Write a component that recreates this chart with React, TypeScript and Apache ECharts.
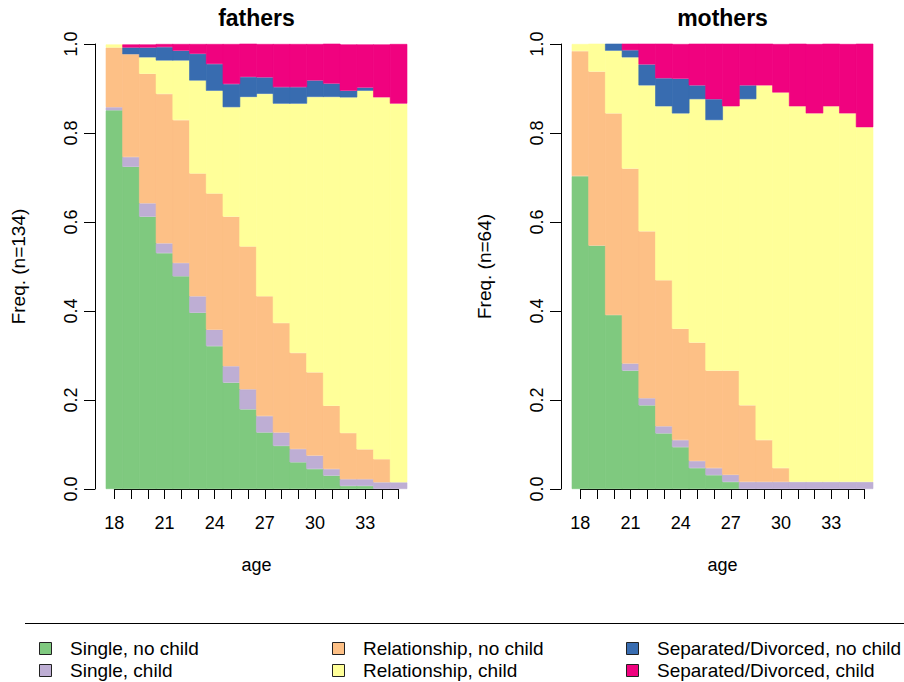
import React, { useEffect, useRef } from "react";
import * as echarts from "echarts";

const ages = ["18","19","20","21","22","23","24","25","26","27","28","29","30","31","32","33","34","35"];

const stateNames = [
  "Single, no child",
  "Single, child",
  "Relationship, no child",
  "Relationship, child",
  "Separated/Divorced, no child",
  "Separated/Divorced, child",
];
const stateColors = ["#7FC97F", "#BEAED4", "#FDC086", "#FFFF99", "#386CB0", "#F0027F"];

// fathers (n=134), proportions per age
const fSingleNoChild = [0.851,0.724,0.612,0.530,0.478,0.396,0.321,0.239,0.179,0.127,0.097,0.060,0.045,0.030,0.007,0.007,0,0];
const fSingleChild = [0.007,0.022,0.030,0.022,0.030,0.037,0.037,0.037,0.045,0.037,0.030,0.030,0.030,0.015,0.015,0.015,0.015,0.015];
const fRelNoChild = [0.134,0.231,0.291,0.336,0.321,0.276,0.306,0.336,0.321,0.269,0.246,0.216,0.187,0.142,0.104,0.067,0.052,0];
const fRelChild = [0.007,0,0.037,0.075,0.134,0.209,0.231,0.246,0.336,0.455,0.493,0.560,0.619,0.694,0.754,0.806,0.813,0.851];
const fSepNoChild = [0,0.015,0.022,0.030,0.022,0.060,0.060,0.052,0.045,0.037,0.037,0.037,0.037,0.030,0.015,0.007,0,0];
const fSepChild = [0,0.007,0.007,0.007,0.015,0.022,0.045,0.090,0.075,0.075,0.097,0.097,0.082,0.090,0.104,0.097,0.119,0.134];

// mothers (n=64), proportions per age
const mSingleNoChild = [0.703,0.547,0.391,0.266,0.188,0.125,0.094,0.047,0.031,0.016,0,0,0,0,0,0,0,0];
const mSingleChild = [0,0,0,0.016,0.016,0.016,0.016,0.016,0.016,0.016,0.016,0.016,0.016,0.016,0.016,0.016,0.016,0.016];
const mRelNoChild = [0.281,0.391,0.453,0.438,0.375,0.328,0.250,0.266,0.219,0.234,0.172,0.094,0.031,0,0,0,0,0];
const mRelChild = [0.016,0.063,0.141,0.250,0.328,0.391,0.484,0.547,0.563,0.594,0.688,0.797,0.844,0.844,0.828,0.844,0.828,0.797];
const mSepNoChild = [0,0,0.016,0.016,0.047,0.063,0.078,0.031,0.047,0,0.031,0,0,0,0,0,0,0];
const mSepChild = [0,0,0,0.016,0.047,0.078,0.078,0.094,0.125,0.141,0.094,0.094,0.109,0.141,0.156,0.141,0.156,0.188];

const yTicks = [0, 0.2, 0.4, 0.6, 0.8, 1.0];

const FONT = "'Liberation Sans', Arial, Helvetica, sans-serif";

const fathersData = [fSingleNoChild, fSingleChild, fRelNoChild, fRelChild, fSepNoChild, fSepChild];
const mothersData = [mSingleNoChild, mSingleChild, mRelNoChild, mRelChild, mSepNoChild, mSepChild];

export default function App() {
  const ref = useRef<HTMLDivElement>(null);
  useEffect(() => {
    if (!ref.current) return;
    const chart = echarts.init(ref.current, null, { renderer: "svg" });

    const panelW = 301;
    const panels = [
      { left: 106, title: "fathers", yname: "Freq. (n=134)", data: fathersData },
      { left: 572, title: "mothers", yname: "Freq. (n=64)", data: mothersData },
    ];
    const top = 44;
    const height = 445;
    const step = panelW / ages.length;

    const grid: any[] = [];
    const xAxis: any[] = [];
    const yAxis: any[] = [];
    const series: any[] = [];
    const graphic: any[] = [];

    panels.forEach((p, pi) => {
      grid.push({ left: p.left, top, width: panelW, height, containLabel: false });
      grid.push({ left: p.left + step / 2, top, width: panelW - step, height, containLabel: false });
      const gBar = pi * 2;
      const gAx = pi * 2 + 1;
      xAxis.push({ type: "category", gridIndex: gBar, data: ages, show: false });
      xAxis.push({
        type: "category", gridIndex: gAx, data: ages, boundaryGap: false, offset: 9,
        axisLine: { show: true, lineStyle: { color: "#000", width: 1 } },
        axisTick: { show: true, interval: 0, length: 10, lineStyle: { color: "#000", width: 1 } },
        axisLabel: { interval: 2, margin: 16, color: "#000", fontSize: 18, fontFamily: FONT },
        splitLine: { show: false },
      });
      yAxis.push({
        type: "value", gridIndex: gBar, min: 0, max: 1, interval: 0.2, offset: 11,
        axisLine: { show: true, lineStyle: { color: "#000", width: 1 } },
        axisTick: { show: true, length: 11, lineStyle: { color: "#000", width: 1 } },
        axisLabel: {
          rotate: 90, margin: 15, color: "#000", fontSize: 18, fontFamily: FONT,
          formatter: (v: number) => (yTicks.some((t) => Math.abs(t - v) < 1e-6) ? v.toFixed(1) : ""),
        },
        splitLine: { show: false },
      });
      yAxis.push({ type: "value", gridIndex: gAx, min: 0, max: 1, show: false });

      p.data.forEach((arr, si) => {
        series.push({
          type: "bar",
          name: stateNames[si],
          xAxisIndex: gBar,
          yAxisIndex: gBar,
          stack: "s" + pi,
          data: arr.map((v) => (v > 0 ? v : { value: v, itemStyle: { borderWidth: 0 } })),
          barWidth: step + 0.8,
          barGap: "-100%",
          itemStyle: { color: stateColors[si], borderColor: stateColors[si], borderWidth: 0.6 },
          emphasis: { disabled: true },
        });
      });

      const cx = p.left + panelW / 2;
      graphic.push({
        type: "text", x: cx, y: 18,
        style: { text: p.title, fontSize: 23, fontWeight: "bold", fontFamily: FONT, fill: "#000", align: "center", verticalAlign: "middle" },
      });
      graphic.push({
        type: "text", x: cx, y: 565,
        style: { text: "age", fontSize: 18, fontFamily: FONT, fill: "#000", align: "center", verticalAlign: "middle" },
      });
      graphic.push({
        type: "text", x: p.left - 88, y: top + height / 2, rotation: Math.PI / 2,
        style: { text: p.yname, fontSize: 19, fontFamily: FONT, fill: "#000", align: "center", verticalAlign: "middle" },
      });
    });

    graphic.push({
      type: "line", shape: { x1: 25, y1: 623.5, x2: 904, y2: 623.5 },
      style: { stroke: "#000", lineWidth: 1 },
    });

    // legend: three columns of two entries
    const legendColX = [39, 332, 626];
    const legendRowY = [648, 670];
    stateNames.forEach((name, i) => {
      const col = Math.floor(i / 2);
      const row = i % 2;
      const sx = legendColX[col];
      const sy = legendRowY[row];
      graphic.push({
        type: "rect",
        shape: { x: sx + 0.5, y: sy - 6 + 0.5, width: 12, height: 12 },
        style: { fill: stateColors[i], stroke: "#222", lineWidth: 1 },
      });
      graphic.push({
        type: "text", x: sx + 31, y: sy,
        style: { text: name, fontSize: 19, fontFamily: FONT, fill: "#000", align: "left", verticalAlign: "middle" },
      });
    });

    chart.setOption({
      animation: false,
      textStyle: { fontFamily: FONT },
      grid,
      xAxis,
      yAxis,
      series,
      graphic,
    });
    return () => chart.dispose();
  }, []);
  return <div ref={ref} style={{ position: "fixed", left: 0, top: 0, width: 904, height: 682, background: "#fff" }} />;
}
